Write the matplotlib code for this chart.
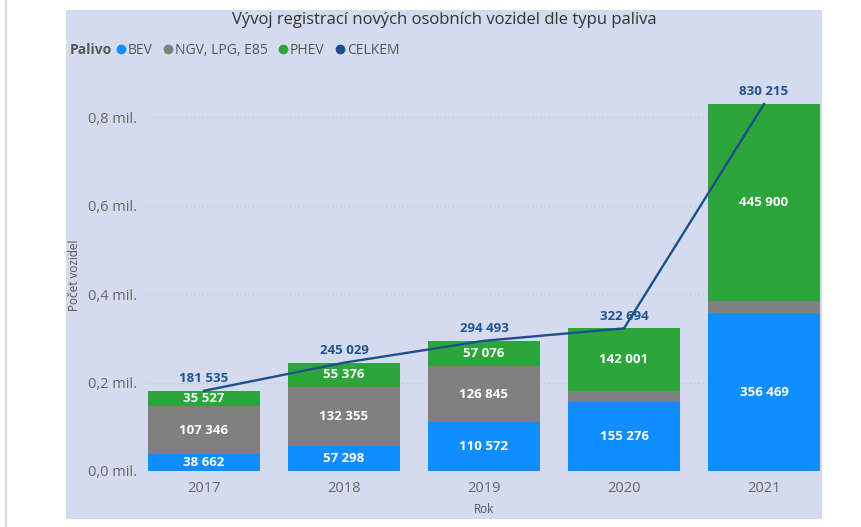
import matplotlib.pyplot as plt
import numpy as np
from matplotlib.lines import Line2D
from matplotlib.patches import Rectangle
from matplotlib.ticker import FuncFormatter

plt.rcParams['font.family'] = ['Open Sans', 'DejaVu Sans']

years = ['2017', '2018', '2019', '2020', '2021']
bev = [38662, 57298, 110572, 155276, 356469]
ngv = [107346, 132355, 126845, 25417, 27846]
phev = [35527, 55376, 57076, 142001, 445900]
celkem = [181535, 245029, 294493, 322694, 830215]

series_names = ['BEV', 'NGV, LPG, E85', 'PHEV', 'CELKEM']
colors = ['#118dff', '#808080', '#2ca53a', '#1d4f8c']
panel_bg = '#d5dbee'


def fmt_num(v):
    return '{:,}'.format(int(v)).replace(',', ' ')


def fmt_mil(v, pos):
    return '{:.1f}'.format(v / 1e6).replace('.', ',') + ' mil.'


fig = plt.figure(figsize=(8.62, 5.27), dpi=100)
fig.patch.set_facecolor('white')
# panel background and the thin rule on the left
fig.patches.append(Rectangle((66 / 862, 1 - 519 / 527), (822 - 66) / 862, (519 - 10) / 527,
                             transform=fig.transFigure, facecolor=panel_bg, edgecolor='none', zorder=-10))
fig.add_artist(Line2D([6 / 862, 6 / 862], [0, 1], transform=fig.transFigure, color='#d9d9d9', lw=1.5))

ax = fig.add_axes([148 / 862, 1 - 471 / 527, (820 - 148) / 862, (471 - 82) / 527])
ax.set_facecolor('none')

x = np.arange(len(years))
w = 0.8
b1 = ax.bar(x, bev, w, color=colors[0], zorder=2)
b2 = ax.bar(x, ngv, w, bottom=bev, color=colors[1], zorder=2)
bottom3 = np.array(bev) + np.array(ngv)
b3 = ax.bar(x, phev, w, bottom=bottom3, color=colors[2], zorder=2)

ax.plot(x, celkem, color=colors[3], lw=1.7, zorder=3)

# segment labels (small NGV segments left unlabeled)
for bars, vals in [(b1, bev), (b2, ngv), (b3, phev)]:
    for rect, v in zip(bars, vals):
        if v < 30000:
            continue
        ax.text(rect.get_x() + rect.get_width() / 2, rect.get_y() + rect.get_height() / 2,
                fmt_num(v), ha='center', va='center', color='white', fontsize=9.5,
                fontweight='bold', zorder=4)

for xi, v in zip(x, celkem):
    ax.annotate(fmt_num(v), (xi, v), xytext=(0, 4), textcoords='offset points',
                ha='center', va='bottom', color='#1f5490', fontsize=9.5, fontweight='bold', zorder=4)

ax.set_xlim(-0.4, 4.4)
ax.set_ylim(0, 880000)
ax.set_yticks([0, 200000, 400000, 600000, 800000])
ax.yaxis.set_major_formatter(FuncFormatter(fmt_mil))
ax.set_xticks(x)
ax.set_xticklabels(years)
ax.tick_params(axis='both', length=0, labelcolor='#666666', labelsize=10.5)
ax.tick_params(axis='y', pad=8)
ax.tick_params(axis='x', pad=7)
ax.grid(axis='y', color='#c3cadf', linestyle=(0, (1, 2)), lw=1, zorder=1)
for s in ax.spines.values():
    s.set_visible(False)

ax.set_xlabel('Rok', fontsize=8.5, color='#555555', labelpad=5)
fig.text(75 / 862, 1 - 275 / 527, 'Počet vozidel', rotation=90, ha='center', va='center',
         fontsize=8.5, color='#555555')

fig.text(444 / 862, 1 - 20 / 527, 'Vývoj registrací nových osobních vozidel dle typu paliva',
         ha='center', va='center', fontsize=12, color='#333333')

# legend row
fig.text(70 / 862, 1 - 50 / 527, 'Palivo', ha='left', va='center', fontsize=10,
         fontweight='bold', color='#555555')
handles = [Line2D([], [], marker='o', linestyle='none', color=c, markersize=6) for c in colors]
fig.legend(handles, series_names, loc='center left', bbox_to_anchor=(114 / 862, 1 - 50 / 527),
           ncol=4, frameon=False, fontsize=10, labelcolor='#555555', handletextpad=0.0,
           columnspacing=0.6, handlelength=1.0, borderpad=0, borderaxespad=0)

fig.savefig('out.png', dpi=100, facecolor='white')
